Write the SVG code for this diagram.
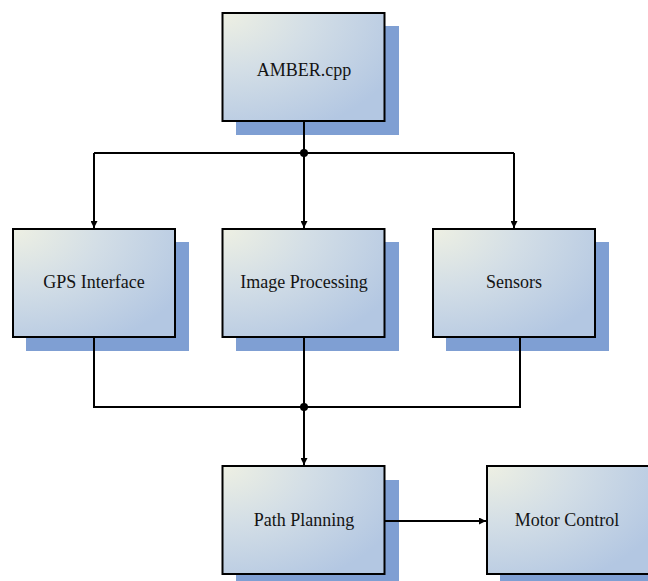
<svg xmlns="http://www.w3.org/2000/svg" width="648" height="581" viewBox="0 0 648 581">
<defs>
<radialGradient id="g" cx="0" cy="0" r="1.2" gradientUnits="objectBoundingBox">
<stop offset="0" stop-color="#eef0e3"/>
<stop offset="0.45" stop-color="#d3dee6"/>
<stop offset="1" stop-color="#b3c7e2"/>
</radialGradient>
<marker id="arr" viewBox="0 0 10 10" refX="10" refY="5" markerWidth="7" markerHeight="7" markerUnits="userSpaceOnUse" orient="auto">
<path d="M0,0 L10,5 L0,10 z" fill="#000"/>
</marker>
<style>
.sh{fill:#7f9fd3}
.bx{fill:url(#g);stroke:#000;stroke-width:2}
.t{font-family:'Liberation Serif','Times New Roman','DejaVu Serif',serif;font-size:18px;fill:#141414;text-anchor:middle}
.c{fill:none;stroke:#000;stroke-width:2}
</style>
</defs>
<g id="amber">
<rect class="sh" x="236" y="26" width="163" height="109"/>
<rect class="bx" x="222.5" y="13" width="162" height="108"/>
<text class="t" x="304" y="76">AMBER.cpp</text>
</g>
<g id="gps">
<rect class="sh" x="26" y="242" width="163" height="109"/>
<rect class="bx" x="13" y="229" width="162" height="108"/>
<text class="t" x="94" y="288">GPS Interface</text>
</g>
<g id="image">
<rect class="sh" x="236" y="242" width="163" height="109"/>
<rect class="bx" x="222.5" y="229" width="162" height="108"/>
<text class="t" x="304" y="288">Image Processing</text>
</g>
<g id="sensors">
<rect class="sh" x="446" y="242" width="163" height="109"/>
<rect class="bx" x="433" y="229" width="162" height="108"/>
<text class="t" x="514" y="288">Sensors</text>
</g>
<g id="path">
<rect class="sh" x="236" y="480" width="163" height="109"/>
<rect class="bx" x="222.5" y="466" width="162" height="108"/>
<text class="t" x="304" y="526">Path Planning</text>
</g>
<g id="motor">
<rect class="sh" x="500" y="480" width="163" height="109"/>
<rect class="bx" x="487" y="466" width="162" height="108"/>
<text class="t" x="567" y="526">Motor Control</text>
</g>
<g id="connectors">
<path class="c" d="M304,121 V153"/>
<path class="c" d="M94,153 H514"/>
<circle cx="304" cy="153" r="4" fill="#000"/>
<path class="c" d="M94,153 V228" marker-end="url(#arr)"/>
<path class="c" d="M304,153 V228" marker-end="url(#arr)"/>
<path class="c" d="M514,153 V228" marker-end="url(#arr)"/>
<path class="c" d="M94,337 V407 H520 V337"/>
<path class="c" d="M304,337 V407"/>
<circle cx="304" cy="407" r="4" fill="#000"/>
<path class="c" d="M304,407 V465" marker-end="url(#arr)"/>
<path class="c" d="M384.5,521 H486" marker-end="url(#arr)"/>
</g>
</svg>
